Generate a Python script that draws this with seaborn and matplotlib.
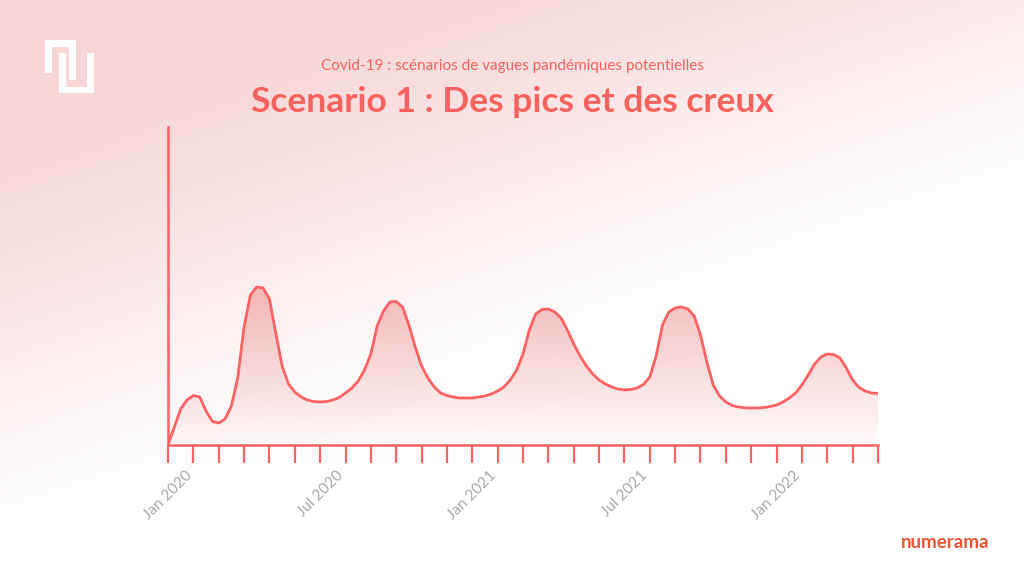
import numpy as np
import pandas as pd
import matplotlib
matplotlib.use("Agg")
import matplotlib.pyplot as plt
from matplotlib.patches import Rectangle
import seaborn as sns

# ---- data (x = months since Jan 2020, quarter-month steps) ----
cases = [0, 18, 36, 45, 49.5, 48, 34, 23.5, 22, 26, 39, 67, 118, 150, 158, 157, 146, 112, 79, 61,
         53, 48, 45, 43.5, 43, 43.5, 45, 47.5, 52, 57, 64, 75, 91, 119, 134, 143, 143.5, 138, 120, 98,
         79, 67, 58, 52, 49.5, 48, 47, 47, 47, 48, 49, 51, 54, 58, 65, 75, 91, 115, 131, 135.5,
         136, 133, 127, 115, 101, 89, 79, 71, 65, 61, 58, 56, 55, 55.5, 57, 60.5, 68, 89, 120, 133,
         137, 138, 136, 129, 110, 83, 60, 49, 43, 39.5, 38, 37.2, 37, 37, 37.5, 38.5, 40, 43, 47, 52,
         60, 70, 81, 88, 91, 90.5, 87, 77, 65, 57.5, 54, 52, 51.5]
n_months = 28
tick_labels = ["Jan 2020", "Jul 2020", "Jan 2021", "Jul 2021", "Jan 2022"]
tick_label_months = [0, 6, 12, 18, 24]

months = np.arange(len(cases)) / 4.0
df = pd.DataFrame({"mois": months, "cas": cases})

W, H = 1024, 576
LINE = "#ff6262"
TITLE = "#f8625e"

sns.set_theme(style="white")
plt.rcParams["font.family"] = ["Lato", "DejaVu Sans"]

fig = plt.figure(figsize=(W / 100, H / 100), dpi=100)

# background gradient
bg = fig.add_axes([0, 0, 1, 1], zorder=-10)
yy, xx = np.mgrid[0:H, 0:W]
d = (350 * xx + 1024 * yy) / 1082.0
s = np.clip((d - 80) / 480.0, 0, 1)
s = s * s * (3 - 2 * s)
pink = np.array([248, 214, 214]) / 255.0
white = np.array([255, 255, 255]) / 255.0
img = pink[None, None, :] * (1 - s[..., None]) + white[None, None, :] * s[..., None]
bg.imshow(img, extent=[0, W, H, 0], aspect="auto")
bg.set_xlim(0, W)
bg.set_ylim(H, 0)
bg.axis("off")

# logo
for (x0, y0, w, h) in [(45, 40, 30.7, 6.7), (45, 40, 6.7, 33.3), (69, 40, 6.7, 40),
                       (59.3, 53.3, 6.7, 40), (59.3, 86.6, 34.7, 6.7), (87.3, 53.3, 6.7, 40)]:
    bg.add_patch(Rectangle((x0, y0), w, h, facecolor="white", edgecolor="none"))

# main axes
top = 318
ax = fig.add_axes([168 / W, (H - 445) / H, 710 / W, top / H])
ax.set_facecolor("none")

sns.lineplot(data=df, x="mois", y="cas", color=LINE, linewidth=2.0, ax=ax, zorder=5)
for ln in ax.get_lines():
    ln.set_solid_joinstyle("round")
    ln.set_solid_capstyle("round")

# gradient fill under curve
poly = ax.fill_between(df["mois"], df["cas"], 0, color="none", linewidth=0)
path = poly.get_paths()[0]
gy = np.linspace(1, 0, 256)
grad = np.zeros((256, 1, 4))
grad[..., 0] = 236 / 255
grad[..., 1] = 140 / 255
grad[..., 2] = 140 / 255
val = gy * top
grad[:, 0, 3] = np.clip(0.04 + 0.55 * (val / 160.0), 0, 0.65)
im = ax.imshow(grad, extent=[0, n_months, 0, top], aspect="auto", origin="upper", zorder=2)
im.set_clip_path(path, transform=ax.transData)

ax.set_xlim(0, n_months)
ax.set_ylim(0, top)
ax.set_xlabel("")
ax.set_ylabel("")
ax.set_yticks([])
ax.set_xticks(range(0, n_months + 1))
labels = [""] * (n_months + 1)
for m, lab in zip(tick_label_months, tick_labels):
    labels[m] = lab
ax.set_xticklabels(labels, rotation=45, ha="center", color="#a8a8a8", fontsize=11)
ax.tick_params(axis="x", direction="out", length=13, width=1.6, color=LINE, pad=4, bottom=True)
for side in ["top", "right"]:
    ax.spines[side].set_visible(False)
for side in ["left", "bottom"]:
    ax.spines[side].set_color(LINE)
    ax.spines[side].set_linewidth(1.8)

# texts
fig.text(0.5, 1 - 66 / H, "Covid-19 : scénarios de vagues pandémiques potentielles",
         ha="center", va="center", color=TITLE, fontsize=11)
fig.text(0.5, 1 - 102 / H, "Scenario 1 : Des pics et des creux",
         ha="center", va="center", color=TITLE, fontsize=25.5, fontweight="bold")
fig.text(945 / W, 1 - 543 / H, "numerama", ha="center", va="center",
         color="#e8553a", fontsize=13.5, fontweight="bold")

fig.savefig("out.png", dpi=100)
